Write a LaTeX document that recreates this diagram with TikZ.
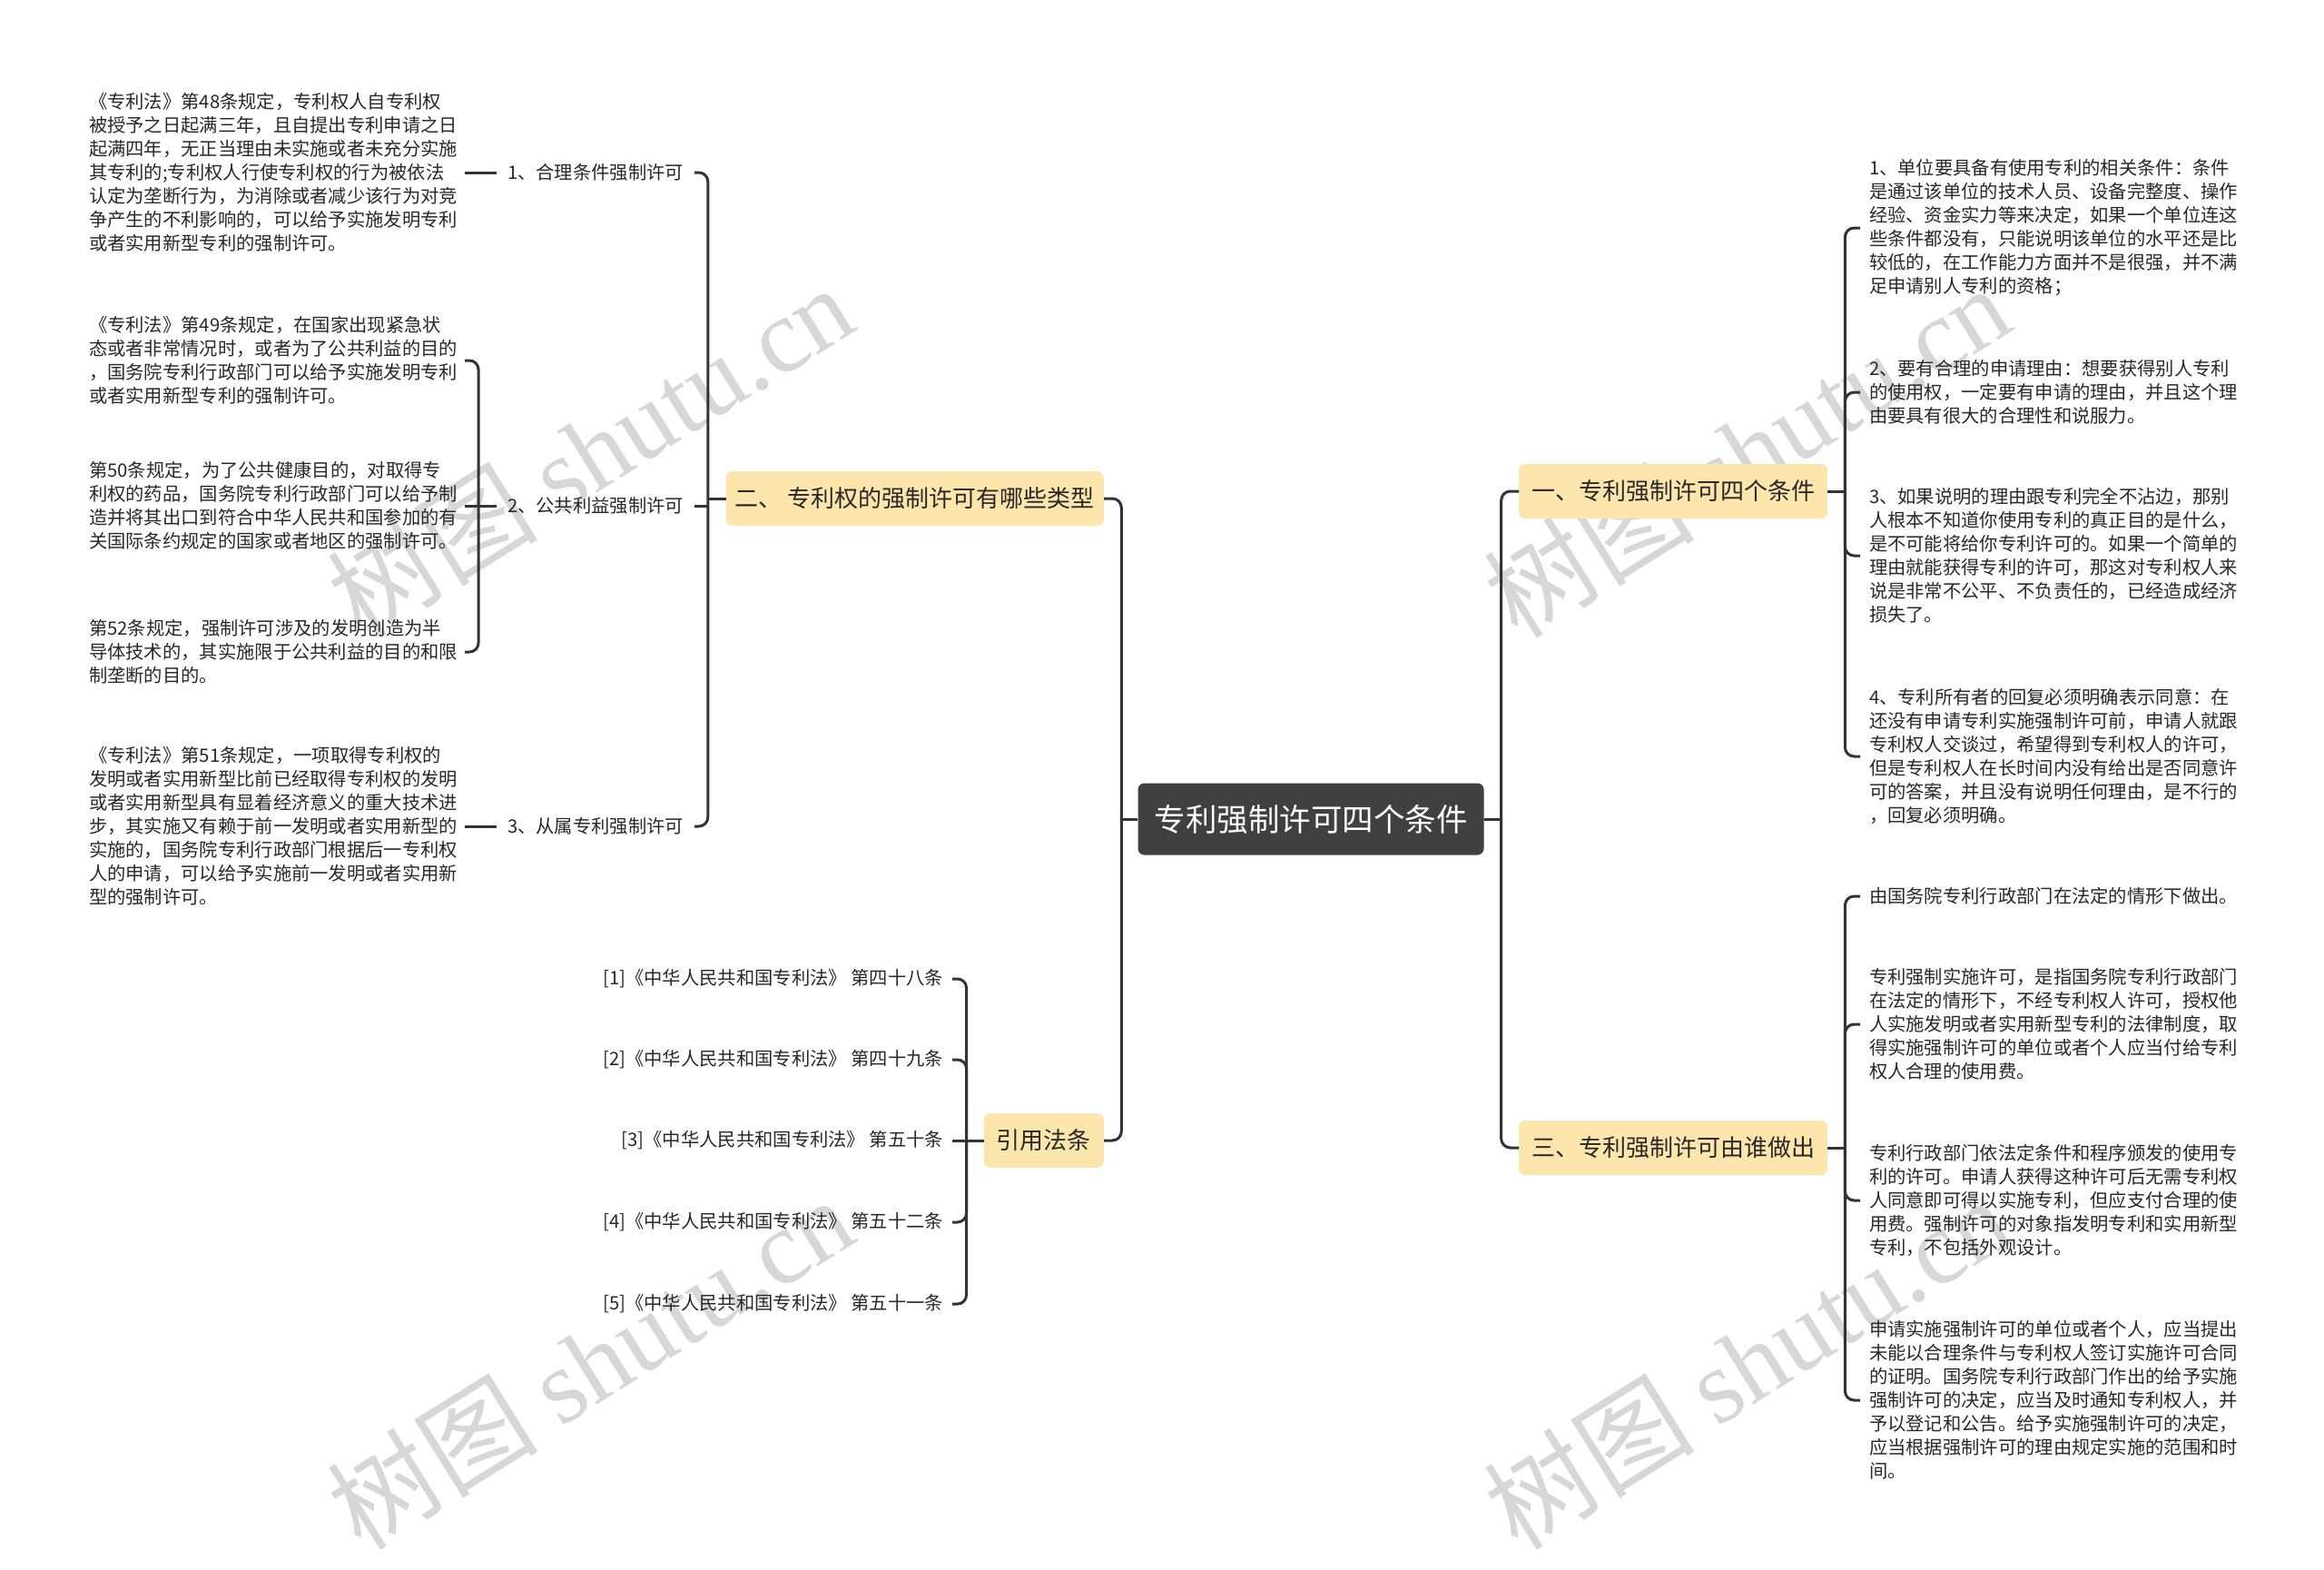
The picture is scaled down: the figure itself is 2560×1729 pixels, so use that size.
\documentclass[tikz,border=0pt]{standalone}
\usepackage{fontspec}
\setmainfont{Noto Sans CJK SC}
\newfontfamily\wmlatin{Liberation Serif}
\definecolor{linec}{RGB}{51,51,51}
\definecolor{txtc}{RGB}{40,40,40}
\definecolor{boxc}{RGB}{253,230,172}
\definecolor{rootc}{RGB}{64,64,64}
\definecolor{wmc}{RGB}{215,215,215}
\begin{document}
\begin{tikzpicture}[x=1pt,y=-1pt,
  conn/.style={draw=linec, line width=3pt, rounded corners=10pt},
  lvlone/.style={fill=boxc, rounded corners=7pt, text=txtc, font=\fontsize{26}{30}\selectfont, inner xsep=14pt, inner ysep=0pt, minimum height=60pt},
  rootbox/.style={fill=rootc, rounded corners=7pt, text=white, font=\fontsize{34.5}{40}\selectfont, minimum width=381pt, minimum height=79pt},
  para/.style={align=left, text=txtc, font=\fontsize{20.3}{26}\selectfont, inner sep=0pt},
  lpara/.style={para, text width=410pt, outer xsep=4pt, anchor=west},
  rpara/.style={para, outer xsep=10pt, anchor=west},
  lab/.style={text=txtc, font=\fontsize{20.3}{26}\selectfont, inner sep=0pt, outer xsep=12pt, anchor=east},
  refn/.style={text=txtc, font=\fontsize{20.3}{26}\selectfont, inner sep=0pt, outer xsep=10pt, anchor=east},
  wm/.style={text=wmc, rotate=32, font=\fontsize{116}{116}\selectfont}
]
\fill[white] (0,0) rectangle (2560,1729);
\useasboundingbox (0,0) rectangle (2560,1729);

% watermarks
\node[wm] (wm1) at (650,496) {树图 {\wmlatin shutu.cn}};
\node[wm] (wm2) at (1924,496) {树图 {\wmlatin shutu.cn}};
\node[wm] (wm3) at (650,1500) {树图 {\wmlatin shutu.cn}};
\node[wm] (wm4) at (1924,1500) {树图 {\wmlatin shutu.cn}};

% root
\node[rootbox] (root) at (1444,902) {专利强制许可四个条件};

% level one
\node[lvlone, anchor=west] (b1) at (1673,541) {一、专利强制许可四个条件};
\node[lvlone, anchor=west] (b3) at (1673,1264) {三、专利强制许可由谁做出};
\node[lvlone, anchor=east, inner xsep=10pt] (b2) at (1216,549) {二、 专利权的强制许可有哪些类型};
\node[lvlone, anchor=east] (b4) at (1216,1256) {引用法条};

% left labels
\node[lab] (lab1) at (765,190) {1、合理条件强制许可};
\node[lab] (lab2) at (765,557) {2、公共利益强制许可};
\node[lab] (lab3) at (765,910) {3、从属专利强制许可};

% left paragraphs
\node[lpara] (t48) at (94,190) {《专利法》第48条规定，专利权人自专利权\\被授予之日起满三年，且自提出专利申请之日\\起满四年，无正当理由未实施或者未充分实施\\其专利的;专利权人行使专利权的行为被依法\\认定为垄断行为，为消除或者减少该行为对竞\\争产生的不利影响的，可以给予实施发明专利\\或者实用新型专利的强制许可。};
\node[lpara] (t49) at (94,397) {《专利法》第49条规定，在国家出现紧急状\\态或者非常情况时，或者为了公共利益的目的\\，国务院专利行政部门可以给予实施发明专利\\或者实用新型专利的强制许可。};
\node[lpara] (t50) at (94,557) {第50条规定，为了公共健康目的，对取得专\\利权的药品，国务院专利行政部门可以给予制\\造并将其出口到符合中华人民共和国参加的有\\关国际条约规定的国家或者地区的强制许可。};
\node[lpara] (t52) at (94,718) {第52条规定，强制许可涉及的发明创造为半\\导体技术的，其实施限于公共利益的目的和限\\制垄断的目的。};
\node[lpara] (t51) at (94,910) {《专利法》第51条规定，一项取得专利权的\\发明或者实用新型比前已经取得专利权的发明\\或者实用新型具有显着经济意义的重大技术进\\步，其实施又有赖于前一发明或者实用新型的\\实施的，国务院专利行政部门根据后一专利权\\人的申请，可以给予实施前一发明或者实用新\\型的强制许可。};

% references
\node[refn] (ref1) at (1049,1078) {[1]《中华人民共和国专利法》 第四十八条};
\node[refn] (ref2) at (1049,1167) {[2]《中华人民共和国专利法》 第四十九条};
\node[refn] (ref3) at (1049,1256) {[3]《中华人民共和国专利法》 第五十条};
\node[refn] (ref4) at (1049,1346) {[4]《中华人民共和国专利法》 第五十二条};
\node[refn] (ref5) at (1049,1436) {[5]《中华人民共和国专利法》 第五十一条};

% right paragraphs
\node[rpara] (r1) at (2049,251) {1、单位要具备有使用专利的相关条件：条件\\是通过该单位的技术人员、设备完整度、操作\\经验、资金实力等来决定，如果一个单位连这\\些条件都没有，只能说明该单位的水平还是比\\较低的，在工作能力方面并不是很强，并不满\\足申请别人专利的资格；};
\node[rpara] (r2) at (2049,432) {2、要有合理的申请理由：想要获得别人专利\\的使用权，一定要有申请的理由，并且这个理\\由要具有很大的合理性和说服力。};
\node[rpara] (r3) at (2049,612) {3、如果说明的理由跟专利完全不沾边，那别\\人根本不知道你使用专利的真正目的是什么，\\是不可能将给你专利许可的。如果一个简单的\\理由就能获得专利的许可，那这对专利权人来\\说是非常不公平、不负责任的，已经造成经济\\损失了。};
\node[rpara] (r4) at (2049,833) {4、专利所有者的回复必须明确表示同意：在\\还没有申请专利实施强制许可前，申请人就跟\\专利权人交谈过，希望得到专利权人的许可，\\但是专利权人在长时间内没有给出是否同意许\\可的答案，并且没有说明任何理由，是不行的\\，回复必须明确。};
\node[rpara] (sA) at (2049,987) {由国务院专利行政部门在法定的情形下做出。};
\node[rpara] (sB) at (2049,1128) {专利强制实施许可，是指国务院专利行政部门\\在法定的情形下，不经专利权人许可，授权他\\人实施发明或者实用新型专利的法律制度，取\\得实施强制许可的单位或者个人应当付给专利\\权人合理的使用费。};
\node[rpara] (sC) at (2049,1322) {专利行政部门依法定条件和程序颁发的使用专\\利的许可。申请人获得这种许可后无需专利权\\人同意即可得以实施专利，但应支付合理的使\\用费。强制许可的对象指发明专利和实用新型\\专利，不包括外观设计。};
\node[rpara] (sD) at (2049,1542) {申请实施强制许可的单位或者个人，应当提出\\未能以合理条件与专利权人签订实施许可合同\\的证明。国务院专利行政部门作出的给予实施\\强制许可的决定，应当及时通知专利权人，并\\予以登记和公告。给予实施强制许可的决定，\\应当根据强制许可的理由规定实施的范围和时\\间。};

% connectors right
\coordinate (rt) at ([xshift=19pt]root.east);
\draw[conn] (root.east) -- (rt);
\draw[conn] (rt) |- (b1.west);
\draw[conn] (rt) |- (b3.west);
\coordinate (k1) at ([xshift=19pt]b1.east);
\draw[conn] (b1.east) -- (k1);
\foreach \n in {r1,r2,r3,r4} \draw[conn] (k1) |- (\n.west);
\coordinate (k3) at ([xshift=19pt]b3.east);
\draw[conn] (b3.east) -- (k3);
\foreach \n in {sA,sB,sC,sD} \draw[conn] (k3) |- (\n.west);

% connectors left
\coordinate (lt) at ([xshift=-18pt]root.west);
\draw[conn] (root.west) -- (lt);
\draw[conn] (lt) |- (b2.east);
\draw[conn] (lt) |- (b4.east);
\coordinate (k2) at ([xshift=-20pt]b2.west);
\draw[conn] (b2.west) -- (k2);
\draw[conn] (k2) |- (lab1.east);
\draw[conn] (k2) |- (lab3.east);
\draw[conn] (lab2.east) -- (lab2.east -| k2);
\coordinate (k22) at ([xshift=-20pt]lab2.west);
\draw[conn] (lab2.west) -- (k22);
\draw[conn] (k22) |- (t49.east);
\draw[conn] (k22) |- (t52.east);
\draw[conn] (t50.east) -- (t50.east -| k22);
\draw[conn] (t48.east) -- (lab1.west);
\draw[conn] (t51.east) -- (lab3.west);
\coordinate (k4) at ([xshift=-19pt]b4.west);
\draw[conn] (b4.west) -- (k4);
\foreach \n in {ref1,ref2,ref4,ref5} \draw[conn] (k4) |- (\n.east);
\draw[conn] (ref3.east) -- (ref3.east -| k4);
\end{tikzpicture}
\end{document}
